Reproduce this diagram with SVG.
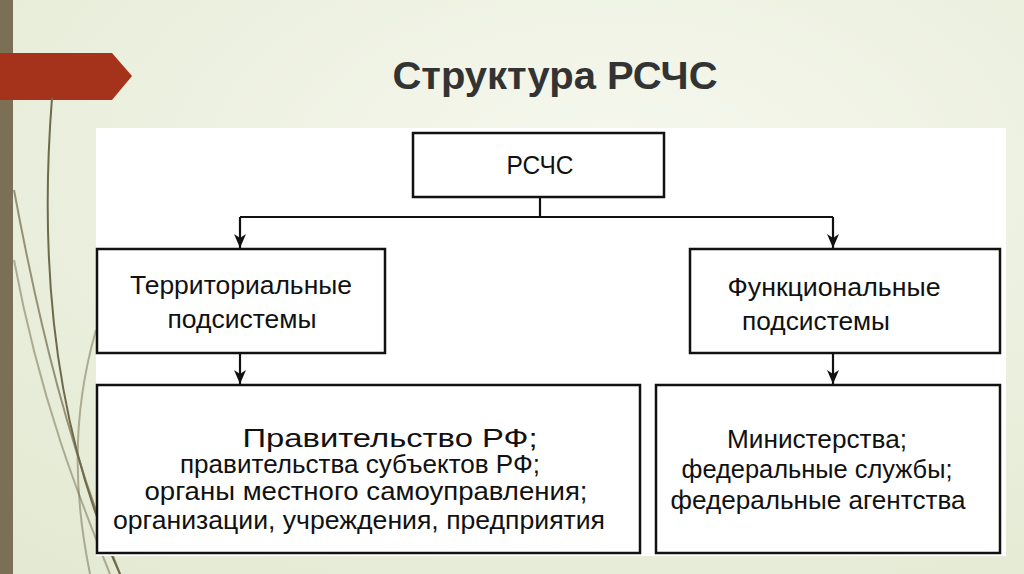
<svg xmlns="http://www.w3.org/2000/svg" width="1024" height="574" viewBox="0 0 1024 574">
<defs>
<radialGradient id="bg" cx="0.6" cy="0.3" r="0.9"><stop offset="0" stop-color="#f6f8ee"/><stop offset="1" stop-color="#e3e9d2"/></radialGradient>
<marker id="ar" markerWidth="16" markerHeight="14" refX="15" refY="7" orient="auto" markerUnits="userSpaceOnUse"><path d="M1,1 L15,7 L1,13 L5,7 Z" fill="#111"/></marker>
<style>
.box{fill:#fff;stroke:#111;stroke-width:2.5}
.t{font-family:"Liberation Sans",Arial,sans-serif;font-size:25px;fill:#111;text-anchor:middle}
.ln{stroke:#111;stroke-width:2.2;fill:none}
.g{fill:none;stroke:#6f6a4c;stroke-width:2}
</style>
</defs>
<rect width="1024" height="574" fill="url(#bg)"/>
<rect x="0" y="0" width="13" height="574" fill="#7b6f56"/>
<path d="M0,53 H112 L132,76 L112,100 H0 Z" fill="#a5321a"/>
<path class="g" d="M52,98 C40,250 50,420 120,574"/>
<path class="g" d="M14,190 C40,330 70,450 120,574" stroke-opacity="0.7"/>
<path class="g" d="M14,260 C40,400 80,500 110,574" stroke-opacity="0.5"/>
<path class="g" d="M96,330 C70,420 75,500 90,574" stroke-opacity="0.5"/>
<text x="555" y="89" font-family="'Liberation Sans',Arial,sans-serif" font-size="38" font-weight="bold" fill="#333" text-anchor="middle" textLength="325" lengthAdjust="spacingAndGlyphs">Структура РСЧС</text>
<rect x="96" y="128" width="910" height="428" fill="#fff"/>
<g id="connectors">
<path class="ln" d="M540,197 V217"/>
<path class="ln" d="M240,217 H833"/>
<path class="ln" d="M240,217 V248" marker-end="url(#ar)"/>
<path class="ln" d="M833,217 V248" marker-end="url(#ar)"/>
<path class="ln" d="M240,353 V384" marker-end="url(#ar)"/>
<path class="ln" d="M833,353 V384" marker-end="url(#ar)"/>
</g>
<g id="rschs"><rect class="box" x="413" y="133" width="251" height="64"/><text class="t" x="540" y="174" textLength="67" lengthAdjust="spacingAndGlyphs">РСЧС</text></g>
<g id="terr"><rect class="box" x="97" y="249" width="288" height="104"/><text class="t" x="241" y="294" textLength="222" lengthAdjust="spacingAndGlyphs">Территориальные</text><text class="t" x="242" y="328" textLength="149" lengthAdjust="spacingAndGlyphs">подсистемы</text></g>
<g id="func"><rect class="box" x="690" y="249" width="310" height="104"/><text class="t" x="834" y="296" textLength="213" lengthAdjust="spacingAndGlyphs">Функциональные</text><text class="t" x="816" y="330" textLength="148" lengthAdjust="spacingAndGlyphs">подсистемы</text></g>
<g id="terr-list"><rect class="box" x="97" y="385" width="543" height="168"/>
<text class="t" x="390" y="447" textLength="295" lengthAdjust="spacingAndGlyphs">Правительство РФ;</text>
<text class="t" x="360" y="473" textLength="360" lengthAdjust="spacingAndGlyphs">правительства субъектов РФ;</text>
<text class="t" x="366" y="500" textLength="443" lengthAdjust="spacingAndGlyphs">органы местного самоуправления;</text>
<text class="t" x="359" y="529" textLength="492" lengthAdjust="spacingAndGlyphs">организации, учреждения, предприятия</text></g>
<g id="func-list"><rect class="box" x="656" y="385" width="344" height="168"/>
<text class="t" x="817" y="448" textLength="180" lengthAdjust="spacingAndGlyphs">Министерства;</text>
<text class="t" x="817" y="478" textLength="271" lengthAdjust="spacingAndGlyphs">федеральные службы;</text>
<text class="t" x="818" y="509" textLength="295" lengthAdjust="spacingAndGlyphs">федеральные агентства</text></g>
</svg>
